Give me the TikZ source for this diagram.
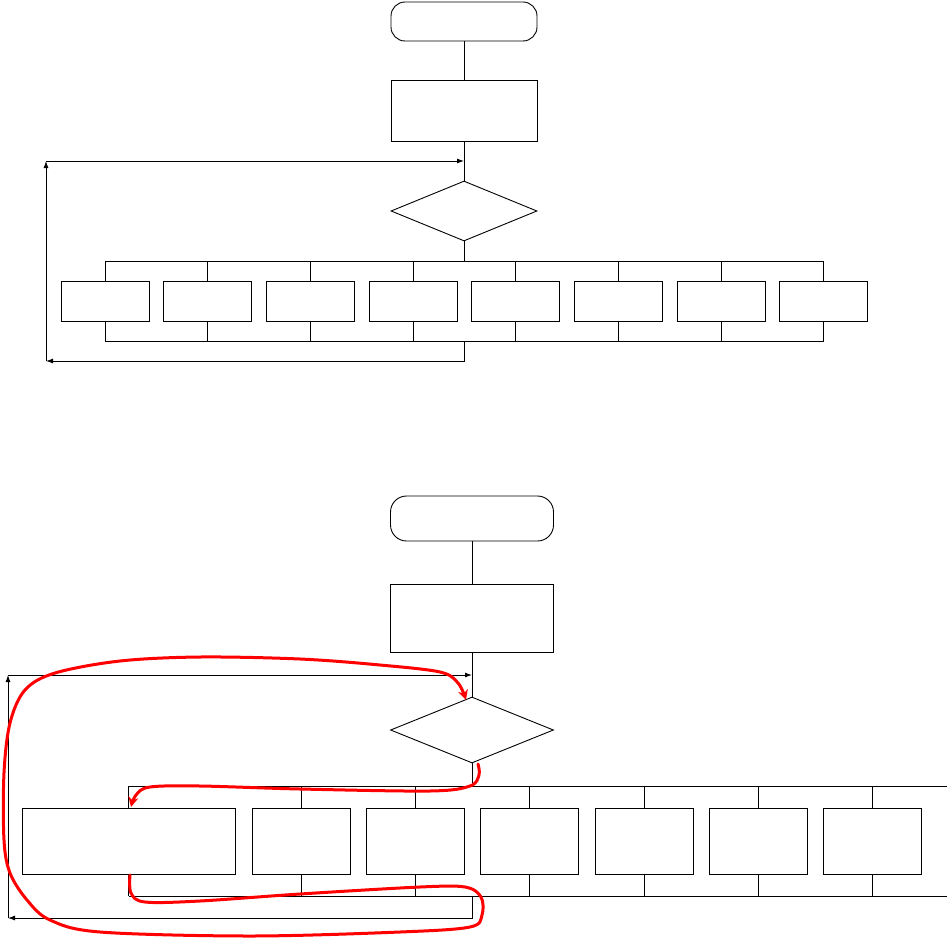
\documentclass[tikz,border=0pt]{standalone}
\usetikzlibrary{shapes.geometric,arrows.meta}
\begin{document}
\begin{tikzpicture}[x=1pt,y=-1pt,
  line/.style={draw=black,line width=0.9pt},
  term/.style={draw=black,line width=0.9pt,rectangle,inner sep=0pt},
  proc/.style={draw=black,line width=0.9pt,rectangle,inner sep=0pt},
  dec/.style={draw=black,line width=0.9pt,diamond,inner sep=0pt},
  arr/.style={-{Latex[length=7pt,width=5pt]}},
  hl/.style={draw=red,line width=3pt,line cap=round,line join=round,-{Stealth[length=10pt,width=10pt]}}
]
\useasboundingbox (0,0) rectangle (947,939);

% ---------------- top diagram ----------------
\node[term,rounded corners=14pt,minimum width=146pt,minimum height=39pt] (t1) at (464,21.5) {};
\node[proc,minimum width=146pt,minimum height=61pt] (p1) at (464,110.5) {};
\node[dec,minimum width=146pt,minimum height=60pt] (d1) at (464,211) {};
\foreach \x [count=\k] in {105,207.7,310.4,413.1,515.8,618.5,721.2,823.9}
  \node[proc,minimum width=88pt,minimum height=40pt] (a\k) at (\x,301) {};

\coordinate (bt1) at (464,261);
\coordinate (bb1) at (464,341);
\coordinate (r1) at (464,361);
\coordinate (l1b) at (46,361);
\coordinate (l1t) at (46,161);
\coordinate (m1) at (464,161);

\draw[line] (t1.south) -- (p1.north);
\draw[line] (p1.south) -- (d1.north);
\draw[line] (d1.south) -- (bt1);
\draw[line] (a1.north |- bt1) -- (a8.north |- bt1);
\draw[line] (a1.south |- bb1) -- (a8.south |- bb1);
\foreach \k in {1,...,8} {
  \draw[line] (a\k.north) -- (a\k.north |- bt1);
  \draw[line] (a\k.south) -- (a\k.south |- bb1);
}
\draw[line,arr] (bb1) -- (r1) -- (l1b);
\draw[line,arr] (l1b) -- (l1t);
\draw[line,arr] (l1t) -- (m1);

% ---------------- bottom diagram ----------------
\node[term,rounded corners=16pt,minimum width=163pt,minimum height=45pt] (t2) at (472,518.5) {};
\node[proc,minimum width=163pt,minimum height=68pt] (p2) at (472,618) {};
\node[dec,minimum width=163pt,minimum height=66pt] (d2) at (472,730) {};
\node[proc,minimum width=213pt,minimum height=66pt] (c1) at (128.5,841) {};
\foreach \x [count=\k from 2] in {301,415.4,529.8,644.2,758.6,872.8}
  \node[proc,minimum width=98pt,minimum height=66pt] (c\k) at (\x,841) {};

\coordinate (bt2) at (472,786);
\coordinate (bb2) at (472,896);
\coordinate (e2t) at (947,786);
\coordinate (e2b) at (947,896);
\coordinate (r2) at (472,918);
\coordinate (l2b) at (8,918);
\coordinate (l2t) at (8,675);
\coordinate (m2) at (472,675);

\draw[line] (t2.south) -- (p2.north);
\draw[line] (p2.south) -- (d2.north);
\draw[line] (d2.south) -- (bt2);
\draw[line] (c1.north |- bt2) -- (e2t);
\draw[line] (c1.south |- bb2) -- (e2b);
\foreach \k in {1,...,7} {
  \draw[line] (c\k.north) -- (c\k.north |- bt2);
  \draw[line] (c\k.south) -- (c\k.south |- bb2);
}
\draw[line,arr] (bb2) -- (r2) -- (l2b);
\draw[line,arr] (l2b) -- (l2t);
\draw[line,arr] (l2t) -- (m2);

% ---------------- red annotation curves ----------------
\draw[hl] plot[smooth,tension=0.55] coordinates {
  (130,875) (131,893) (145,902) (200,901) (300,894) (420,887) (465,887)
  (481,897) (482,915) (470,927) (400,932) (250,936) (100,932) (50,920)
  (27,900) (10,873) (4,840) (4,773) (10,723) (25,690) (55,673) (120,661)
  (200,657) (300,659) (380,665) (440,672) (458,683) (466,700)};
\draw[hl] plot[smooth,tension=0.55] coordinates {
  (478,764) (479,775) (470,786) (430,791) (300,789) (200,786) (150,787)
  (136,795) (131,807)};
\end{tikzpicture}
\end{document}
